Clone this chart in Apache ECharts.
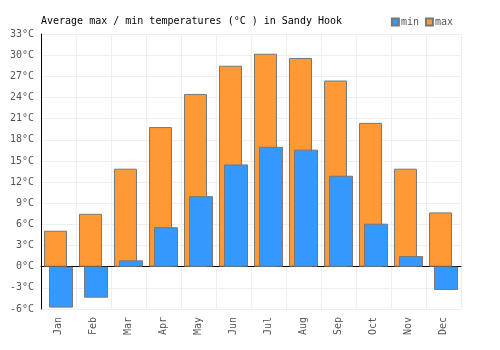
<!DOCTYPE html>
<html>
<head>
<meta charset="utf-8">
<script src="https://cdn.jsdelivr.net/npm/echarts@6/dist/echarts.min.js"></script>
<style>
  html, body { margin: 0; padding: 0; background: #fff; }
  #chart { width: 500px; height: 350px; }
</style>
</head>
<body>
<div id="chart"></div>
<script>
var months = ['Jan', 'Feb', 'Mar', 'Apr', 'May', 'Jun', 'Jul', 'Aug', 'Sep', 'Oct', 'Nov', 'Dec']
var maxTemps = [5.1, 7.5, 13.9, 19.8, 24.5, 28.5, 30.2, 29.6, 26.4, 20.4, 13.9, 7.7]
var minTemps = [-5.8, -4.4, 0.9, 5.6, 10.0, 14.5, 17.0, 16.6, 12.9, 6.1, 1.5, -3.3]

var font = '"DejaVu Sans Mono", monospace'
var chart = echarts.init(document.getElementById('chart'))

chart.setOption({
  backgroundColor: '#fff',
  animation: false,
  title: {
    text: 'Average max / min temperatures (°C ) in Sandy Hook',
    left: 36,
    top: 11,
    textStyle: { fontFamily: font, fontSize: 10, fontWeight: 'normal', color: '#000' }
  },
  legend: {
    data: ['min', 'max'],
    right: 42,
    top: 12,
    icon: 'rect',
    itemWidth: 7,
    itemHeight: 7,
    itemGap: 6,
    textStyle: { fontFamily: font, fontSize: 10, color: '#555', padding: [0, 0, 0, -3] }
  },
  grid: {
    left: 41,
    right: 39,
    top: 34,
    bottom: 41
  },
  xAxis: {
    type: 'category',
    data: months,
    axisLine: { onZero: true, lineStyle: { color: '#000', width: 1 } },
    axisTick: { show: false },
    axisLabel: { rotate: 90, fontFamily: font, fontSize: 10, color: '#555', margin: 8 },
    splitLine: { show: true, lineStyle: { color: '#eee' } }
  },
  yAxis: {
    type: 'value',
    min: -6,
    max: 33,
    interval: 3,
    axisLine: { show: true, lineStyle: { color: '#000', width: 1 } },
    axisTick: { show: false },
    axisLabel: { formatter: '{value}°C', fontFamily: font, fontSize: 10, color: '#555', margin: 7 },
    splitLine: { show: true, lineStyle: { color: '#eee' } }
  },
  series: [
    {
      name: 'max',
      type: 'bar',
      data: maxTemps,
      barWidth: 23,
      barGap: '-78%',
      itemStyle: { color: '#ff9933', borderColor: '#777', borderWidth: 1 }
    },
    {
      name: 'min',
      type: 'bar',
      data: minTemps,
      barWidth: 24,
      itemStyle: { color: '#3399ff', borderColor: '#777', borderWidth: 1 }
    }
  ]
})
</script>
</body>
</html>
